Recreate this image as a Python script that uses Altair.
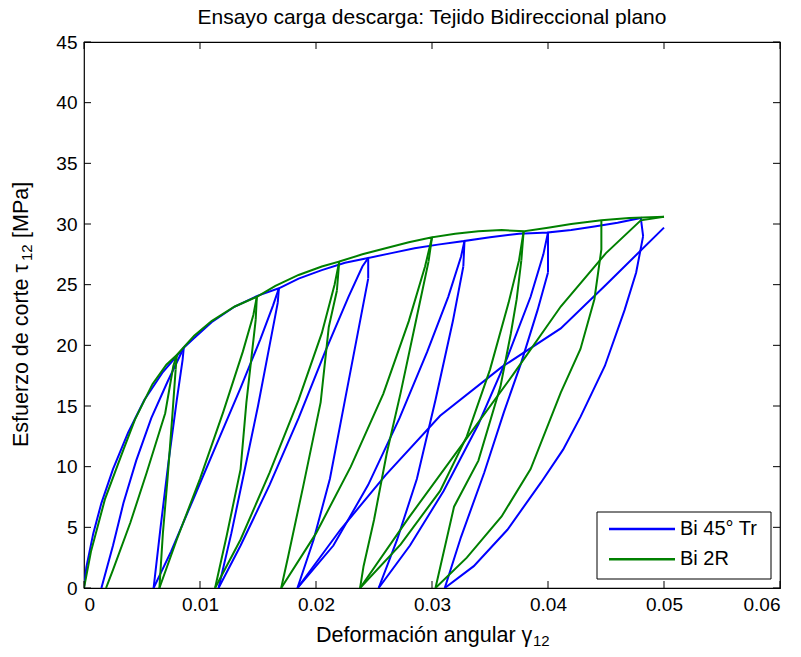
import altair as alt
import pandas as pd

# ---------------- data ----------------
series_names = ["Bi 45° Tr", "Bi 2R"]
series_colors = ["#0000ff", "#008000"]

# Bi 45° Tr : upper loading curve (through the peaks, with the short drops at each peak)
bi45_env_x = [0, 0.0002, 0.0008, 0.0015, 0.0025, 0.0038, 0.0052, 0.0068, 0.0086, 0.0085,
              0.0086, 0.0095, 0.0110, 0.0130, 0.0150, 0.0168, 0.0167,
              0.0168, 0.0185, 0.0205, 0.0225, 0.0245, 0.0245,
              0.0245, 0.0265, 0.0285, 0.0305, 0.0328, 0.0327,
              0.0328, 0.0350, 0.0375, 0.0400, 0.0400,
              0.0400, 0.0420, 0.0440, 0.0460, 0.0480, 0.0482]
bi45_env_y = [0, 1.7, 4.5, 7.0, 9.8, 12.8, 15.5, 17.8, 19.8, 18.8,
              19.8, 20.6, 21.9, 23.2, 24.1, 24.7, 23.5,
              24.7, 25.5, 26.2, 26.8, 27.2, 25.5,
              27.2, 27.6, 28.0, 28.3, 28.6, 26.5,
              28.6, 28.9, 29.2, 29.3, 26.0,
              29.3, 29.5, 29.8, 30.1, 30.5, 29.0]
# steep branches: peak -> residual strain
bi45_steep_x = [[0.0085, 0.0080, 0.0073, 0.0066, 0.0060],
                [0.0167, 0.0160, 0.0150, 0.0138, 0.0127, 0.0116],
                [0.0245, 0.0237, 0.0225, 0.0212, 0.0198, 0.0184],
                [0.0327, 0.0318, 0.0303, 0.0287, 0.0270, 0.0254],
                [0.0400, 0.0391, 0.0377, 0.0362, 0.0345, 0.0325, 0.0311]]
bi45_steep_y = [[18.8, 15.5, 10.5, 5.0, 0],
                [23.5, 20.0, 15.0, 9.5, 4.5, 0],
                [25.5, 21.5, 15.5, 9.0, 4.0, 0],
                [26.5, 22.0, 15.5, 9.0, 4.0, 0],
                [26.0, 22.9, 18.6, 14.5, 9.5, 4.2, 0]]
# curved branches: residual strain -> next peak
bi45_curve_x = [[0.0015, 0.0025, 0.0034, 0.0045, 0.0058, 0.0072, 0.0086],
                [0.0060, 0.0075, 0.0095, 0.0115, 0.0135, 0.0152, 0.0163, 0.0168],
                [0.0116, 0.0135, 0.0160, 0.0185, 0.0208, 0.0228, 0.0240, 0.0245],
                [0.0184, 0.0215, 0.0245, 0.0272, 0.0296, 0.0314, 0.0325, 0.0328],
                [0.0254, 0.0281, 0.0310, 0.0340, 0.0365, 0.0385, 0.0396, 0.0400],
                [0.0311, 0.0336, 0.0365, 0.0394, 0.0413, 0.0428, 0.0449, 0.0466, 0.0476, 0.0482]]
bi45_curve_y = [[0, 3.5, 7.0, 10.5, 14.0, 17.0, 19.8],
                [0, 3.0, 7.5, 12.0, 16.5, 20.5, 23.3, 24.7],
                [0, 3.5, 8.5, 14.0, 19.5, 24.0, 26.5, 27.2],
                [0, 3.5, 8.5, 14.0, 19.5, 24.0, 27.3, 28.6],
                [0, 3.5, 8.0, 13.5, 19.0, 24.0, 27.5, 29.3],
                [0, 1.8, 4.8, 8.7, 11.4, 14.1, 18.3, 22.9, 26.0, 29.0]]
# last long reloading line up to the end of the test
bi45_last_x = [0.0184, 0.0221, 0.0260, 0.0307, 0.0360, 0.0411, 0.0450, 0.0500]
bi45_last_y = [0, 4.8, 9.3, 14.2, 18.2, 21.4, 25.0, 29.7]

# Bi 2R
bi2r_env_x = [0, 0.0006, 0.0018, 0.0034, 0.0044, 0.0059, 0.0071, 0.0080, 0.0079,
              0.0080, 0.0095, 0.0110, 0.0130, 0.0149, 0.0148,
              0.0149, 0.0165, 0.0185, 0.0205, 0.0220, 0.0218,
              0.0220, 0.0240, 0.0260, 0.0280, 0.0300, 0.0297,
              0.0300, 0.0320, 0.0340, 0.0360, 0.0379, 0.0377,
              0.0379, 0.0400, 0.0420, 0.0446, 0.0470, 0.0500]
bi2r_env_y = [0, 3.0, 7.3, 11.4, 13.9, 16.8, 18.4, 19.2, 18.0,
              19.2, 20.8, 22.0, 23.2, 24.0, 22.1,
              24.0, 24.9, 25.8, 26.5, 26.9, 24.5,
              26.9, 27.5, 28.0, 28.5, 28.9, 26.9,
              28.9, 29.2, 29.4, 29.5, 29.4, 27.0,
              29.4, 29.7, 30.0, 30.3, 30.5, 30.6]
bi2r_steep_x = [[0.0079, 0.0076, 0.0072, 0.0068, 0.0065],
                [0.0148, 0.0140, 0.0135, 0.0123, 0.0113],
                [0.0218, 0.0211, 0.0204, 0.0189, 0.0176, 0.0170],
                [0.0297, 0.0287, 0.0273, 0.0261, 0.0250, 0.0241, 0.0238],
                [0.0377, 0.0373, 0.0368, 0.0359, 0.0340, 0.0319, 0.0303]]
bi2r_steep_y = [[18.0, 14.0, 9.0, 4.5, 0],
                [22.1, 15.3, 9.8, 4.3, 0],
                [24.5, 21.5, 15.3, 8.4, 2.6, 0],
                [26.9, 22.4, 16.1, 11.1, 5.6, 1.8, 0],
                [27.0, 23.8, 21.0, 16.6, 10.5, 6.7, 0]]
bi2r_curve_x = [[0.0019, 0.0025, 0.0040, 0.0054, 0.0070, 0.0077, 0.0080],
                [0.0065, 0.0080, 0.0100, 0.0120, 0.0137, 0.0146, 0.0149],
                [0.0113, 0.0135, 0.0160, 0.0185, 0.0205, 0.0216, 0.0220],
                [0.0170, 0.0200, 0.0230, 0.0258, 0.0280, 0.0294, 0.0300],
                [0.0238, 0.0273, 0.0307, 0.0330, 0.0350, 0.0366, 0.0375, 0.0379],
                [0.0303, 0.0330, 0.0360, 0.0385, 0.0411, 0.0428, 0.0440, 0.0446, 0.0446]]
bi2r_curve_y = [[0, 1.5, 5.4, 9.5, 14.4, 18.3, 19.2],
                [0, 4.0, 9.0, 14.5, 19.5, 22.5, 24.0],
                [0, 4.0, 9.5, 15.5, 21.0, 25.0, 26.9],
                [0, 4.5, 10.0, 16.0, 22.0, 26.5, 28.9],
                [0, 3.6, 8.0, 12.5, 18.0, 23.5, 27.0, 29.4],
                [0, 2.5, 5.9, 9.8, 16.1, 19.7, 23.8, 27.9, 30.3]]
bi2r_last_x = [0.0238, 0.0280, 0.0325, 0.0370, 0.0411, 0.0450, 0.0480, 0.0500]
bi2r_last_y = [0, 5.8, 11.7, 17.6, 23.2, 27.6, 30.3, 30.6]

x_ticks = [0, 0.01, 0.02, 0.03, 0.04, 0.05, 0.06]
y_ticks = [0, 5, 10, 15, 20, 25, 30, 35, 40, 45]

title_text = "Ensayo carga descarga: Tejido Bidireccional plano"
xlabel_main, xlabel_sub = "Deformación angular γ", "12"
ylabel_main, ylabel_sub, ylabel_end = "Esfuerzo de corte τ", "12", "[MPa]"

# ---------------- build the line table ----------------
rows = []
def add(name, seg, xs_, ys_):
    for i, (xv, yv) in enumerate(zip(xs_, ys_)):
        rows.append({"x": xv, "y": yv, "serie": name, "seg": f"{name}-{seg}", "i": i})

for nm, ex, ey, sx, sy, cx, cy, lx, ly in [
    (series_names[0], bi45_env_x, bi45_env_y, bi45_steep_x, bi45_steep_y,
     bi45_curve_x, bi45_curve_y, bi45_last_x, bi45_last_y),
    (series_names[1], bi2r_env_x, bi2r_env_y, bi2r_steep_x, bi2r_steep_y,
     bi2r_curve_x, bi2r_curve_y, bi2r_last_x, bi2r_last_y),
]:
    add(nm, "env", ex, ey)
    for k, (a, b) in enumerate(zip(sx, sy)):
        add(nm, f"s{k}", a, b)
    for k, (a, b) in enumerate(zip(cx, cy)):
        add(nm, f"c{k}", a, b)
    add(nm, "last", lx, ly)
df = pd.DataFrame(rows)

W, H = 696, 546
FONT = "Liberation Sans"
TICK_FS = 19
LAB_FS = 21.5
SUB_FS = 15

xs = alt.Scale(domain=[0, 0.06], nice=False)
ys = alt.Scale(domain=[0, 45], nice=False)

lines = alt.Chart(df).mark_line(strokeWidth=2, clip=True).encode(
    x=alt.X("x:Q", scale=xs,
            axis=alt.Axis(values=x_ticks, title=None, ticks=False, domain=False,
                          grid=False, labelFont=FONT, labelFontSize=TICK_FS,
                          labelColor="#000", labelPadding=7,
                          labelExpr="datum.value == 0 ? '0' : format(datum.value, '.2f')")),
    y=alt.Y("y:Q", scale=ys,
            axis=alt.Axis(values=y_ticks, title=None, ticks=False, domain=False,
                          grid=False, labelFont=FONT, labelFontSize=TICK_FS,
                          labelColor="#000", labelPadding=7)),
    color=alt.Color("serie:N", scale=alt.Scale(domain=series_names, range=series_colors),
                    legend=None),
    order="i:Q",
    detail="seg:N",
)

# inward ticks on all four sides
xt = pd.DataFrame({"t": x_ticks})
yt = pd.DataFrame({"t": y_ticks})
xtick_b = alt.Chart(xt).mark_rule(color="#000", strokeWidth=1).encode(
    x=alt.X("t:Q", scale=xs), y=alt.value(H), y2=alt.value(H - 7))
xtick_t = alt.Chart(xt).mark_rule(color="#000", strokeWidth=1).encode(
    x=alt.X("t:Q", scale=xs), y=alt.value(0), y2=alt.value(7))
ytick_l = alt.Chart(yt).mark_rule(color="#000", strokeWidth=1).encode(
    y=alt.Y("t:Q", scale=ys), x=alt.value(0), x2=alt.value(7))
ytick_r = alt.Chart(yt).mark_rule(color="#000", strokeWidth=1).encode(
    y=alt.Y("t:Q", scale=ys), x=alt.value(W), x2=alt.value(W - 7))

def txt(s, x, y, size, align="left", angle=0):
    kw = dict(font=FONT, fontSize=size, color="#000", align=align, baseline="middle")
    if angle:
        kw["angle"] = angle
    return alt.Chart(pd.DataFrame({"t": [s]})).mark_text(**kw).encode(
        text="t:N", x=alt.value(x), y=alt.value(y))

title = txt(title_text, W / 2, -24, 21, align="center")

# x label with subscript
xl_start = 232
xlabel1 = txt(xlabel_main, xl_start, H + 48, LAB_FS)
xlabel2 = txt(xlabel_sub, xl_start + 217, H + 53, SUB_FS)

# y label (rotated) with subscript
yl_x = -62
yl_start = 405
ylabel1 = txt(ylabel_main, yl_x, yl_start, LAB_FS, angle=270)
ylabel2 = txt(ylabel_sub, yl_x + 5, yl_start - 186, SUB_FS, angle=270)
ylabel3 = txt(ylabel_end, yl_x, yl_start - 209, LAB_FS, angle=270)

# legend
legbox = alt.Chart(pd.DataFrame({"a": [0]})).mark_rect(
    fill="white", stroke="#000", strokeWidth=1
).encode(x=alt.value(513), x2=alt.value(687), y=alt.value(470), y2=alt.value(537))
leg_items = []
for k, (nm, col) in enumerate(zip(series_names, series_colors)):
    yy = 487 + 30.3 * k
    leg_items.append(
        alt.Chart(pd.DataFrame({"a": [0]})).mark_rule(color=col, strokeWidth=2.5).encode(
            x=alt.value(525), x2=alt.value(591), y=alt.value(yy)))
    leg_items.append(txt(nm, 596, yy, 20))

chart = alt.layer(
    lines, xtick_b, xtick_t, ytick_l, ytick_r, title,
    xlabel1, xlabel2, ylabel1, ylabel2, ylabel3, legbox, *leg_items
).properties(
    width=W, height=H,
    autosize=alt.AutoSizeParams(type="none"),
    padding={"left": 84, "top": 42, "right": 21, "bottom": 69},
    background="white",
).configure_view(stroke="#000", strokeWidth=1.2)

chart.save("out.html", embed_options={"renderer": "svg", "actions": False})
